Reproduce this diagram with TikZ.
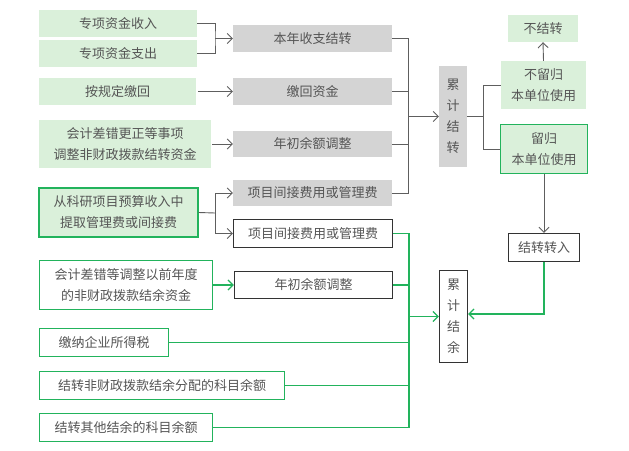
\documentclass[tikz,border=0pt]{standalone}
\usepackage{fontspec}
\usepackage{tikz}
\usepackage{xcolor}
\usetikzlibrary{arrows.meta,positioning,calc}
\newfontfamily\cjk{Noto Sans CJK SC}
\definecolor{ink}{HTML}{555555}
\definecolor{wire}{HTML}{5E5E5E}
\definecolor{frame}{HTML}{333333}
\definecolor{accentgreen}{HTML}{22B35C}
\definecolor{grnbg}{HTML}{DAF0DA}
\definecolor{graybg}{HTML}{D4D4D4}
\tikzset{
  txt/.style={inner sep=0pt,align=center,text=ink,
              font=\cjk\fontsize{13}{21}\selectfont},
  greencard/.style={txt,fill=grnbg},
  goodcard/.style={txt,fill=grnbg,draw=accentgreen,line width=1.4pt},
  graycard/.style={txt,fill=graybg},
  framecard/.style={txt,fill=white,draw=frame,line width=1.4pt},
  outcard/.style={txt,fill=white,draw=accentgreen,line width=1.4pt},
  graywire/.style={draw=wire,line width=0.9pt},
  greenwire/.style={draw=accentgreen,line width=1.2pt},
  grayarr/.style={graywire,-{Straight Barb[length=5pt,width=10pt]}},
  greenarr/.style={greenwire,-{Straight Barb[length=5pt,width=10pt]}}
}
\begin{document}
\begin{tikzpicture}[x=1pt,y=-1pt]
    \path[use as bounding box] (0,0) rectangle (629,450);

    % left column, upper part
    \node[greencard,minimum width=158,minimum height=27] (incomeA) at (118,23.5)
      {专项资金收入};
    \node[greencard,minimum width=158,minimum height=27] (incomeB) at (118,53.5)
      {专项资金支出};
    \node[greencard,minimum width=157,minimum height=27] (refund) at (117.5,91.5)
      {按规定缴回};
    \node[greencard,minimum width=172,minimum height=48] (fixA) at (125,144)
      {会计差错更正等事项\\调整非财政拨款结转资金};
    \node[goodcard,minimum width=159,minimum height=49] (research) at (118.5,212.5)
      {从科研项目预算收入中\\提取管理费或间接费};

    % middle column, gray
    \node[graycard,minimum width=159,minimum height=27] (yearnet) at (312.5,38.5)
      {本年收支结转};
    \node[graycard,minimum width=159,minimum height=27] (back) at (312.5,91.5)
      {缴回资金};
    \node[graycard,minimum width=159,minimum height=26] (adjA) at (312.5,144)
      {年初余额调整};
    \node[graycard,minimum width=159,minimum height=26] (feeA) at (312.5,193)
      {项目间接费用或管理费};

    % lower part
    \node[framecard,minimum width=159,minimum height=28] (feeB) at (313,233.5)
      {项目间接费用或管理费};
    \node[outcard,minimum width=173,minimum height=49] (fixB) at (126,285)
      {会计差错等调整以前年度\\的非财政拨款结余资金};
    \node[framecard,minimum width=158,minimum height=27] (adjB) at (313.5,285)
      {年初余额调整};
    \node[outcard,minimum width=129,minimum height=28] (tax) at (104,342.5)
      {缴纳企业所得税};
    \node[outcard,minimum width=245,minimum height=28] (distr) at (162,385.5)
      {结转非财政拨款结余分配的科目余额};
    \node[outcard,minimum width=173,minimum height=28] (other) at (126,427.5)
      {结转其他结余的科目余额};

    % totals and right column
    \node[graycard,minimum width=28,minimum height=101] (sumCarry) at (453,116.5)
      {累\\计\\结\\转};
    \node[framecard,minimum width=28,minimum height=92] (sumRest) at (453.5,316.5)
      {累\\计\\结\\余};
    \node[greencard,minimum width=70,minimum height=27] (noCarry) at (543,28.5)
      {不结转};
    \node[greencard,minimum width=85,minimum height=48] (notKept) at (543.5,85)
      {不留归\\本单位使用};
    \node[goodcard,minimum width=87,minimum height=49] (kept) at (544,149)
      {留归\\本单位使用};
    \node[framecard,minimum width=71,minimum height=28] (carryIn) at (544,247.5)
      {结转转入};

    \coordinate (jA) at (215,38.5);
    \coordinate (jE) at (215,213);
    \coordinate (busA) at (408,116.5);
    \coordinate (busB) at (409,316.5);
    \coordinate (jS) at (483,116.5);

    \draw[graywire] (incomeA.east) -| (jA) |- (incomeB.east);
    \draw[grayarr] (jA) -- (yearnet.west);
    \draw[grayarr,shorten <=2pt] (refund.east) -- (back.west);
    \draw[grayarr,shorten <=1pt] (fixA.east) -- (adjA.west);
    \draw[graywire] (research.east) -- (jE);
    \draw[grayarr] (jE) |- (feeA.west);
    \draw[grayarr] (jE) |- (feeB.west);

    \foreach \n in {yearnet,back,adjA,feeA}
      \draw[graywire] (\n.east) -| (busA);
    \draw[grayarr] (busA) -- (sumCarry.west);
    \draw[graywire] (sumCarry.east) -- (jS);
    \draw[graywire] (jS) |- (notKept.west);
    \draw[graywire] (jS) |- (kept.west);
    \draw[grayarr] (notKept.north) -- (noCarry.south);
    \draw[grayarr] (kept.south) -- (carryIn.north);

    \draw[greenarr] (fixB.east) -- (adjB.west);
    \foreach \n in {feeB,adjB,tax,distr,other}
      \draw[greenwire] (\n.east) -| (busB);
    \draw[greenarr] (busB) -- (sumRest.west);
    \draw[greenarr] (carryIn.south) |- ($(sumRest.east)+(0,-2.5)$);
\end{tikzpicture}
\end{document}
